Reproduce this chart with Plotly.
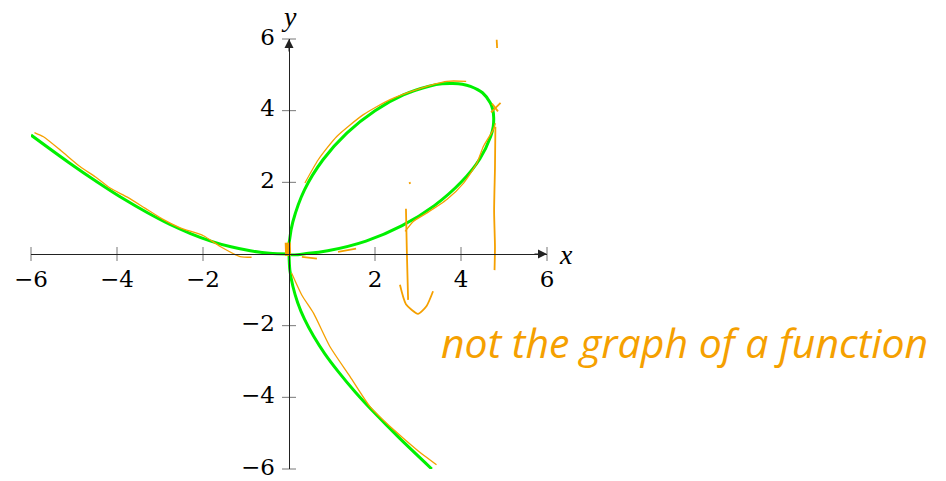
import plotly.graph_objects as go

# Folium-shaped curve, three branches meeting at the origin
left_x = [-6.00, -5.14, -4.46, -3.85, -3.29, -2.78, -2.29, -1.82, -1.35, -0.90, -0.45, 0.0]
left_y = [3.32, 2.57, 2.01, 1.54, 1.15, 0.83, 0.57, 0.36, 0.20, 0.09, 0.02, 0.0]

loop_x = [0.0, 0.45, 0.90, 1.79, 2.63, 3.38, 4.00, 4.44, 4.69, 4.75, 4.76, 4.74, 4.68,
          4.50, 4.22, 4.03, 3.81, 3.56, 3.28, 2.66, 2.00, 1.35, 0.79, 0.36, 0.09, 0.02, 0.0]
loop_y = [0.0, 0.02, 0.09, 0.36, 0.79, 1.35, 2.00, 2.66, 3.28, 3.56, 3.81, 4.03, 4.22,
          4.50, 4.68, 4.74, 4.76, 4.75, 4.69, 4.44, 4.00, 3.38, 2.63, 1.79, 0.90, 0.45, 0.0]

lower_x = [0.0, 0.02, 0.09, 0.20, 0.36, 0.57, 0.83, 1.15, 1.54, 2.01, 2.57, 3.32]
lower_y = [0.0, -0.45, -0.90, -1.35, -1.82, -2.29, -2.78, -3.29, -3.85, -4.46, -5.14, -6.00]

# Hand-drawn orange strokes
trace_left_x = [-5.92, -5.71, -5.30, -4.86, -4.50, -4.16, -3.75, -3.35, -2.95, -2.53, -1.99, -1.60, -1.14, -0.87]
trace_left_y = [3.39, 3.27, 2.88, 2.44, 2.15, 1.84, 1.58, 1.28, 0.98, 0.73, 0.51, 0.21, -0.07, -0.09]

trace_top_x = [0.37, 0.68, 1.11, 1.73, 2.35, 2.97, 3.67, 4.12]
trace_top_y = [1.98, 2.63, 3.28, 3.89, 4.31, 4.59, 4.82, 4.82]

trace_side_x = [4.80, 4.75, 4.52, 4.37, 4.06, 3.67, 3.20, 2.89, 2.70]
trace_side_y = [3.65, 3.47, 3.00, 2.54, 1.98, 1.52, 1.14, 0.91, 0.63]

trace_down_x = [0.06, 0.30, 0.57, 0.95, 1.42, 1.88, 2.43, 2.97, 3.43]
trace_down_y = [-0.53, -1.15, -1.65, -2.58, -3.42, -4.25, -4.90, -5.46, -5.88]

vertical_x = [4.80, 4.79, 4.77, 4.79, 4.78]
vertical_y = [3.55, 2.40, 1.20, 0.20, -0.45]

arrow_stem_x = [2.72, 2.74, 2.77]
arrow_stem_y = [1.26, 0.10, -1.28]
arrow_hook_x = [2.58, 2.72, 3.00, 3.20, 3.35]
arrow_hook_y = [-0.86, -1.40, -1.67, -1.45, -1.04]

dash_x = [[0.30, 0.65], [1.14, 1.56], [2.79, 2.83], [4.83, 4.84], [4.70, 4.92], [4.72, 4.86]]
dash_y = [[-0.08, -0.13], [0.06, 0.15], [1.97, 1.99], [5.98, 5.75], [3.95, 4.22], [4.20, 3.98]]

dot_x = [-0.02, -0.03]
dot_y = [-0.05, 0.32]

ticks = [-6, -4, -2, 2, 4, 6]
tick_text = ["\u22126", "\u22124", "\u22122", "2", "4", "6"]

GREEN = "#00F000"
ORANGE = "#F5A000"
FONT = "DejaVu Serif"
LABEL_FONT = dict(family=FONT, size=23, color="black")

# label offsets from the axes, in data units
X_LABEL_DROP = 0.77
Y_LABEL_SHIFT = 0.33


def joined(parts):
    out = []
    for p in parts:
        out += list(p) + [None]
    return out


fig = go.Figure()

fig.add_trace(go.Scatter(
    x=joined([left_x, loop_x, lower_x]), y=joined([left_y, loop_y, lower_y]),
    mode="lines", line=dict(color=GREEN, width=3, shape="spline", smoothing=0.8),
    hoverinfo="skip", showlegend=False))

fig.add_trace(go.Scatter(
    x=joined([trace_left_x, trace_top_x, trace_side_x, trace_down_x]),
    y=joined([trace_left_y, trace_top_y, trace_side_y, trace_down_y]),
    mode="lines", line=dict(color=ORANGE, width=1.3, shape="spline", smoothing=0.6),
    hoverinfo="skip", showlegend=False))

fig.add_trace(go.Scatter(
    x=joined([vertical_x, arrow_stem_x, arrow_hook_x] + dash_x),
    y=joined([vertical_y, arrow_stem_y, arrow_hook_y] + dash_y),
    mode="lines", line=dict(color=ORANGE, width=1.8, shape="spline", smoothing=0.6),
    hoverinfo="skip", showlegend=False))

fig.add_trace(go.Scatter(
    x=dot_x, y=dot_y, mode="lines", line=dict(color=ORANGE, width=6),
    hoverinfo="skip", showlegend=False))

# tick marks crossing each axis
fig.add_trace(go.Scatter(
    x=ticks, y=[0] * len(ticks), mode="markers", cliponaxis=False,
    marker=dict(symbol="line-ns", size=10, line=dict(color="#777777", width=1)),
    hoverinfo="skip", showlegend=False))
fig.add_trace(go.Scatter(
    x=[0] * len(ticks), y=ticks, mode="markers", cliponaxis=False,
    marker=dict(symbol="line-ew", size=10, line=dict(color="#777777", width=1)),
    hoverinfo="skip", showlegend=False))

# tick labels placed next to the axes through the origin
fig.add_trace(go.Scatter(
    x=ticks, y=[-X_LABEL_DROP] * len(ticks), text=tick_text, mode="text",
    textposition="middle center", textfont=LABEL_FONT, cliponaxis=False,
    hoverinfo="skip", showlegend=False))
fig.add_trace(go.Scatter(
    x=[-Y_LABEL_SHIFT] * len(ticks), y=ticks, text=tick_text, mode="text",
    textposition="middle left", textfont=LABEL_FONT, cliponaxis=False,
    hoverinfo="skip", showlegend=False))

axis_common = dict(
    range=[-6, 6], showgrid=False, zeroline=False, showline=True,
    linecolor="#222222", linewidth=1, ticks="", showticklabels=False,
    anchor="free", position=0.5, automargin=False,
)

fig.update_layout(
    width=946, height=481,
    margin=dict(l=31, r=399, t=39, b=12),
    paper_bgcolor="white", plot_bgcolor="white",
    xaxis=axis_common,
    yaxis=axis_common,
    annotations=[
        dict(x=6, y=0, xref="x", yref="y", ax=-14, ay=0, axref="pixel", ayref="pixel",
             showarrow=True, arrowhead=2, arrowsize=1.8, arrowwidth=1, arrowcolor="#222222", text=""),
        dict(x=0, y=6, xref="x", yref="y", ax=0, ay=14, axref="pixel", ayref="pixel",
             showarrow=True, arrowhead=2, arrowsize=1.8, arrowwidth=1, arrowcolor="#222222", text=""),
        dict(x=1.037, y=0.5, xref="paper", yref="paper", text="<i>x</i>", showarrow=False,
             xanchor="center", yanchor="middle",
             font=dict(family="Liberation Serif", size=28, color="black")),
        dict(x=0.5, y=1.052, xref="paper", yref="paper", text="<i>y</i>", showarrow=False,
             xanchor="center", yanchor="middle",
             font=dict(family="Liberation Serif", size=28, color="black")),
        dict(x=1.2674, y=0.296, xref="paper", yref="paper", text="<i>not the graph of a function</i>",
             showarrow=False, xanchor="center", yanchor="middle",
             font=dict(family="Open Sans", size=41, color=ORANGE)),
    ],
)

fig.write_html("out.html")
